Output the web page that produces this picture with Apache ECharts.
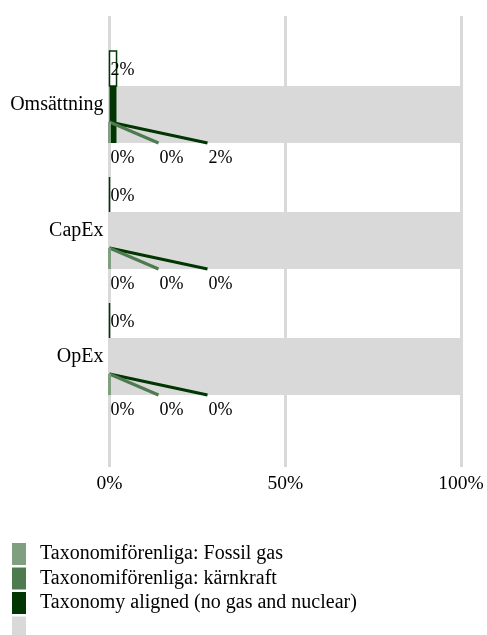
<!DOCTYPE html>
<html><head><meta charset="utf-8">
<script src="https://cdn.jsdelivr.net/npm/echarts@6/dist/echarts.min.js"></script>
<style>html,body{margin:0;padding:0;background:#fff}#c{width:487px;height:635px}</style>
</head><body><div id="c"></div>
<script>
const categories = ['Omsättning', 'CapEx', 'OpEx'];
const fossilGas = [0, 0, 0];
const nuclear = [0, 0, 0];
const aligned = [2, 0, 0];
const other = [98, 100, 100];
const totalAligned = [2, 0, 0];
const xTicks = [0, 50, 100];

const names = ['Taxonomiförenliga: Fossil gas', 'Taxonomiförenliga: kärnkraft', 'Taxonomy aligned (no gas and nuclear)', ' '];
const colors = ['#7f9f80', '#4e7a4f', '#013501', '#d9d9d9'];
const FONT = '"Liberation Serif", "Times New Roman", serif';

function stackData(vals, bases) {
  return categories.map((c, i) => [vals[i], i, bases.reduce((s, b) => s + b[i], 0)]);
}

function segRenderer(color, lineDx, withLine) {
  return function (params, api) {
    const v = api.value(0), i = api.value(1), base = api.value(2);
    const p0 = api.coord([base, i]);
    const p1 = api.coord([base + v, i]);
    const o = api.coord([0, i]);
    const yc = p0[1];
    const children = [{
      type: 'rect',
      shape: { x: p0[0], y: yc - 19, width: p1[0] - p0[0], height: 57 },
      style: { fill: color }
    }];
    if (withLine) {
      children.push({
        type: 'line',
        shape: { x1: o[0], y1: yc + 17, x2: o[0] + lineDx, y2: yc + 38 },
        style: { stroke: color, lineWidth: 3 }
      });
      children.push({
        type: 'text',
        style: { text: v + '%', x: o[0] + lineDx + 1, y: yc + 53, fill: '#000',
          font: '18px ' + FONT, align: 'left', verticalAlign: 'middle' }
      });
    }
    return { type: 'group', children };
  };
}

function boxRenderer(params, api) {
  const v = api.value(0), i = api.value(1);
  const o = api.coord([0, i]);
  const p1 = api.coord([v, i]);
  const yc = o[1];
  return { type: 'group', children: [
    { type: 'rect', shape: { x: o[0], y: yc - 54, width: p1[0] - o[0], height: 35 },
      style: { fill: '#fff', stroke: colors[2], lineWidth: 1.5 } },
    { type: 'text', style: { text: v + '%', x: o[0] + 1, y: yc - 35, fill: '#000',
      font: '18px ' + FONT, align: 'left', verticalAlign: 'middle' } }
  ]};
}

const chart = echarts.init(document.getElementById('c'), null, { renderer: 'canvas' });
chart.setOption({
  animation: false,
  backgroundColor: '#fff',
  grid: [
    { left: 109.5, right: 26, top: 42, height: 378 },
    { left: 109.5, right: 26, top: 16, height: 451 }
  ],
  xAxis: [
    { gridIndex: 0, type: 'value', min: 0, max: 100, show: false },
    { gridIndex: 1, type: 'value', min: xTicks[0], max: xTicks[xTicks.length - 1], interval: 50,
      axisLine: { show: false }, axisTick: { show: false },
      splitLine: { show: true, lineStyle: { color: '#d9d9d9', width: 3 } },
      axisLabel: { formatter: '{value}%', color: '#000', fontFamily: FONT, fontSize: 19.5, margin: 7 } }
  ],
  yAxis: [
    { gridIndex: 0, type: 'category', data: categories, inverse: true,
      axisLine: { show: false }, axisTick: { show: false }, splitLine: { show: false },
      axisLabel: { color: '#000', fontFamily: FONT, fontSize: 20, margin: 6 } },
    { gridIndex: 1, type: 'value', show: false }
  ],
  legend: {
    data: names.map((n, k) => ({ name: n, itemStyle: { color: colors[k] } })),
    orient: 'vertical', left: 12, top: 543, height: 140, padding: 0, icon: 'rect',
    itemWidth: 14, itemHeight: 22, itemGap: 2.5,
    selectedMode: false,
    textStyle: { color: '#000', fontFamily: FONT, fontSize: 20, padding: [0, 0, 0, 9] }
  },
  series: [
    { type: 'custom', name: names[3], xAxisIndex: 0, yAxisIndex: 0, itemStyle: { color: colors[3] },
      renderItem: segRenderer(colors[3], 0, false), data: stackData(other, [fossilGas, nuclear, aligned]) },
    { type: 'custom', name: names[2], xAxisIndex: 0, yAxisIndex: 0, itemStyle: { color: colors[2] },
      renderItem: segRenderer(colors[2], 98, true), data: stackData(aligned, [fossilGas, nuclear]) },
    { type: 'custom', name: names[1], xAxisIndex: 0, yAxisIndex: 0, itemStyle: { color: colors[1] },
      renderItem: segRenderer(colors[1], 49, true), data: stackData(nuclear, [fossilGas]) },
    { type: 'custom', name: names[0], xAxisIndex: 0, yAxisIndex: 0, itemStyle: { color: colors[0] },
      renderItem: segRenderer(colors[0], 0, true), data: stackData(fossilGas, []) },
    { type: 'custom', name: 'box', xAxisIndex: 0, yAxisIndex: 0,
      renderItem: boxRenderer, data: categories.map((c, i) => [totalAligned[i], i]) }
  ]
});
</script></body></html>
